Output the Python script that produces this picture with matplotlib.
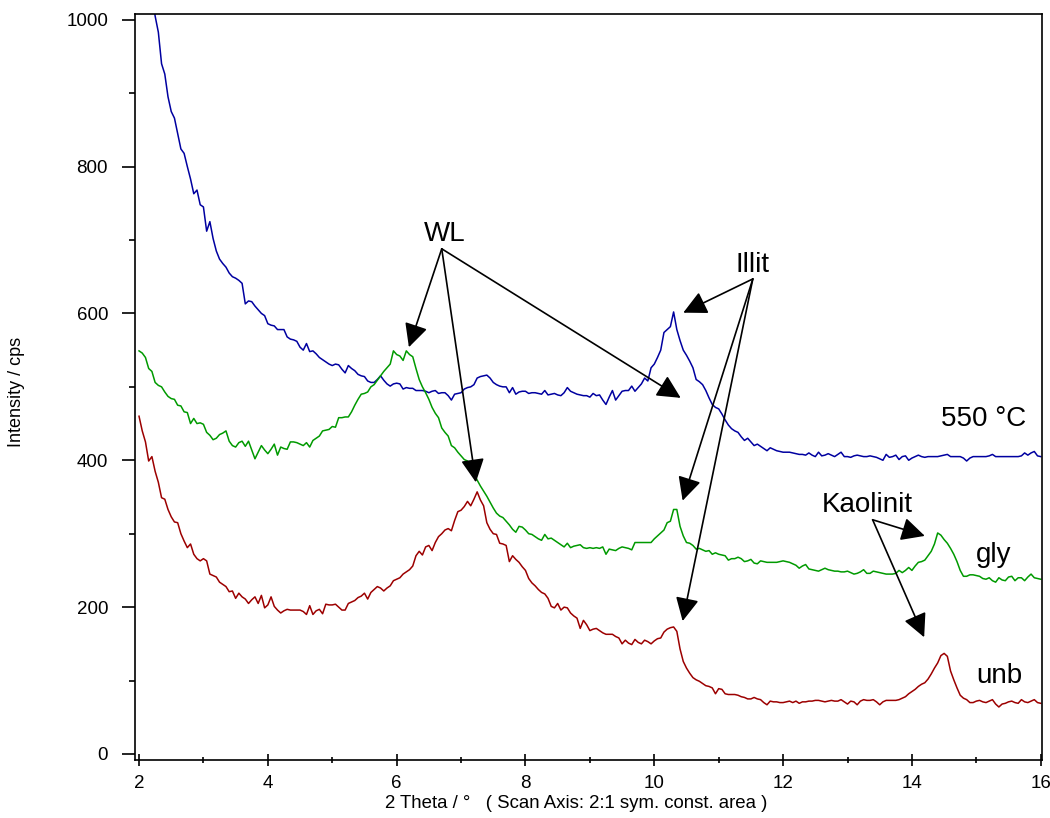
import numpy as np
import matplotlib
matplotlib.use("Agg")
import matplotlib.pyplot as plt
from matplotlib.ticker import MultipleLocator

# 2-theta grid of the scan (0.05 deg step), 2..16 deg
two_theta = np.round(np.arange(2.0, 16.0001, 0.05), 2)

# intensity / cps
cps_550 = [
    1200, 1160, 1120, 1080, 1040, 1005, 983, 940, 926, 895, 875, 866, 845, 824, 818, 800, 783, 763, 768, 748,
    745, 712, 725, 702, 685, 674, 668, 663, 655, 650, 648, 645, 641, 613, 617, 616, 610, 605, 600, 597,
    586, 584, 583, 578, 578, 578, 568, 565, 564, 562, 554, 550, 559, 548, 549, 545, 540, 537, 534, 531,
    529, 531, 530, 524, 519, 529, 525, 522, 517, 515, 514, 508, 506, 506, 510, 515, 509, 504, 501, 504,
    505, 504, 497, 499, 498, 498, 495, 495, 495, 494, 492, 494, 495, 491, 492, 492, 488, 482, 490, 491,
    492, 497, 499, 500, 503, 512, 514, 515, 516, 512, 506, 503, 501, 500, 500, 492, 499, 490, 493, 494,
    494, 491, 492, 492, 491, 490, 495, 489, 490, 491, 489, 488, 492, 499, 494, 492, 490, 489, 488, 488,
    486, 491, 488, 489, 482, 476, 486, 495, 482, 488, 494, 495, 495, 501, 494, 499, 504, 512, 508, 526,
    531, 540, 550, 574, 578, 582, 602, 578, 563, 550, 543, 535, 526, 510, 507, 503, 495, 485, 476, 472,
    470, 463, 455, 448, 443, 440, 438, 432, 427, 430, 425, 420, 422, 419, 416, 413, 417, 415, 413, 412,
    411, 411, 411, 410, 409, 408, 408, 407, 410, 407, 405, 411, 406, 407, 409, 407, 405, 408, 411, 405,
    405, 404, 406, 407, 406, 405, 405, 406, 405, 404, 402, 400, 408, 404, 405, 407, 401, 405, 406, 400,
    403, 405, 407, 405, 404, 405, 405, 405, 405, 406, 407, 408, 405, 405, 405, 405, 403, 399, 403, 405,
    405, 405, 405, 405, 406, 408, 405, 405, 405, 405, 405, 405, 405, 405, 406, 410, 407, 410, 412, 406,
    405,
]
cps_gly = [
    549, 546, 540, 525, 521, 506, 502, 500, 493, 487, 484, 483, 475, 474, 466, 465, 450, 457, 450, 451,
    449, 438, 434, 428, 430, 435, 437, 440, 426, 420, 418, 424, 426, 419, 426, 414, 402, 411, 420, 414,
    409, 415, 422, 407, 418, 416, 415, 425, 425, 424, 422, 420, 424, 418, 427, 430, 433, 440, 441, 442,
    446, 445, 458, 458, 459, 459, 466, 475, 483, 490, 491, 493, 500, 503, 509, 515, 521, 526, 531, 549,
    544, 542, 536, 549, 544, 541, 525, 510, 500, 492, 483, 472, 464, 458, 444, 438, 433, 420, 417, 411,
    406, 401, 399, 391, 382, 373, 365, 358, 351, 343, 335, 328, 324, 322, 317, 312, 306, 302, 310, 309,
    305, 300, 299, 296, 293, 291, 299, 293, 294, 291, 288, 285, 282, 287, 281, 283, 284, 285, 281, 280,
    281, 280, 281, 280, 282, 272, 279, 278, 277, 280, 282, 281, 280, 278, 288, 288, 288, 288, 288, 288,
    293, 297, 301, 305, 315, 317, 333, 333, 310, 297, 288, 287, 284, 279, 280, 278, 276, 277, 272, 274,
    272, 271, 270, 264, 266, 266, 268, 266, 262, 263, 265, 260, 259, 263, 262, 261, 261, 261, 261, 262,
    263, 262, 261, 259, 257, 253, 256, 258, 252, 251, 250, 249, 251, 253, 251, 250, 249, 249, 248, 248,
    249, 247, 245, 246, 248, 251, 246, 246, 249, 248, 247, 246, 245, 245, 245, 246, 250, 247, 250, 254,
    250, 256, 261, 262, 264, 270, 276, 286, 301, 298, 292, 287, 280, 272, 262, 250, 242, 242, 244, 244,
    243, 242, 239, 238, 240, 236, 234, 240, 237, 236, 241, 242, 236, 240, 240, 236, 241, 245, 240, 239,
    238,
]
cps_unb = [
    460, 440, 425, 399, 405, 385, 370, 349, 347, 333, 323, 316, 315, 300, 290, 281, 286, 272, 266, 263,
    266, 263, 245, 243, 241, 234, 231, 228, 221, 222, 212, 219, 214, 211, 205, 210, 214, 205, 216, 199,
    203, 214, 201, 196, 192, 195, 197, 196, 196, 196, 196, 194, 190, 202, 190, 195, 197, 191, 204, 203,
    203, 204, 200, 196, 196, 205, 207, 209, 213, 215, 219, 211, 220, 224, 228, 226, 222, 226, 229, 236,
    238, 240, 245, 248, 251, 256, 270, 276, 271, 282, 284, 277, 288, 296, 300, 305, 307, 304, 318, 330,
    332, 337, 344, 338, 347, 357, 346, 338, 315, 306, 300, 299, 287, 286, 284, 262, 270, 265, 261, 255,
    250, 239, 233, 229, 224, 220, 218, 212, 201, 199, 205, 196, 200, 199, 192, 188, 185, 171, 182, 176,
    168, 170, 171, 168, 165, 163, 163, 163, 160, 158, 150, 155, 151, 149, 156, 152, 150, 155, 153, 150,
    154, 157, 158, 166, 170, 172, 173, 167, 143, 126, 117, 110, 104, 101, 99, 96, 93, 92, 90, 82,
    89, 88, 82, 81, 81, 81, 80, 78, 77, 75, 75, 77, 75, 74, 70, 67, 72, 71, 71, 70,
    70, 71, 72, 70, 72, 69, 71, 71, 72, 72, 73, 73, 72, 71, 72, 73, 72, 72, 74, 71,
    68, 72, 71, 67, 72, 74, 73, 73, 74, 71, 67, 71, 73, 73, 73, 73, 74, 76, 78, 82,
    85, 88, 92, 95, 97, 102, 109, 117, 124, 134, 137, 133, 113, 101, 90, 80, 76, 74, 70, 70,
    72, 73, 71, 70, 72, 74, 68, 64, 68, 69, 71, 72, 70, 69, 74, 71, 70, 72, 74, 70,
    69,
]

# peak labels: (text, text position, arrow start, arrow tips)
labels = [
    ("WL", (6.74, 699), (6.70, 688), [(6.19, 554), (7.23, 370), (10.41, 485)]),
    ("Illit", (11.53, 656), (11.53, 647), [(10.45, 601), (10.44, 345), (10.44, 181)]),
    ("Kaolinit", (13.30, 329), (13.39, 319), [(14.20, 297), (14.19, 159)]),
]
curve_names = [("550 °C", 15.11, 447), ("gly", 15.27, 261), ("unb", 15.36, 97)]

plt.rcParams["font.family"] = ["Liberation Sans", "DejaVu Sans"]

fig = plt.figure(figsize=(10.5, 8.18), dpi=100)
ax = fig.add_axes([0.1286, 0.0709, 0.8638, 0.912])

ax.plot(two_theta, cps_550, color="#0000a0", lw=1.1)
ax.plot(two_theta, cps_gly, color="#009a00", lw=1.1)
ax.plot(two_theta, cps_unb, color="#9c0000", lw=1.1)

for text, tpos, start, tips in labels:
    ax.text(*tpos, text, fontsize=20, ha="center", va="baseline")
    for tip in tips:
        ax.annotate("", xy=tip, xytext=start,
                    arrowprops=dict(arrowstyle="-|>", color="black", lw=1.2,
                                    mutation_scale=36, shrinkA=0, shrinkB=0))
for text, x, y in curve_names:
    ax.text(x, y, text, fontsize=20, ha="center", va="baseline")

ax.set_xlim(1.938, 16.02)
ax.set_ylim(-8.2, 1007.8)
ax.xaxis.set_major_locator(MultipleLocator(2))
ax.xaxis.set_minor_locator(MultipleLocator(1))
ax.yaxis.set_major_locator(MultipleLocator(200))
ax.yaxis.set_minor_locator(MultipleLocator(100))
ax.tick_params(axis="y", which="major", direction="out", length=9.4, width=1.2, labelsize=13.5, pad=10)
ax.tick_params(axis="y", which="minor", direction="out", length=4.3, width=1.2)
ax.tick_params(axis="x", which="major", direction="inout", length=9, width=1.2, labelsize=13.5, pad=6)
ax.tick_params(axis="x", which="minor", direction="inout", length=4.3, width=1.2)
for s in ax.spines.values():
    s.set_linewidth(1.2)

ax.set_xlabel("2 Theta / °   ( Scan Axis: 2:1 sym. const. area )", fontsize=13.4)
ax.set_ylabel("Intensity / cps", fontsize=13)
ax.xaxis.set_label_coords(0.486, -0.047)
ax.yaxis.set_label_coords(-0.121, 0.493)

fig.savefig("out.png", dpi=100)
